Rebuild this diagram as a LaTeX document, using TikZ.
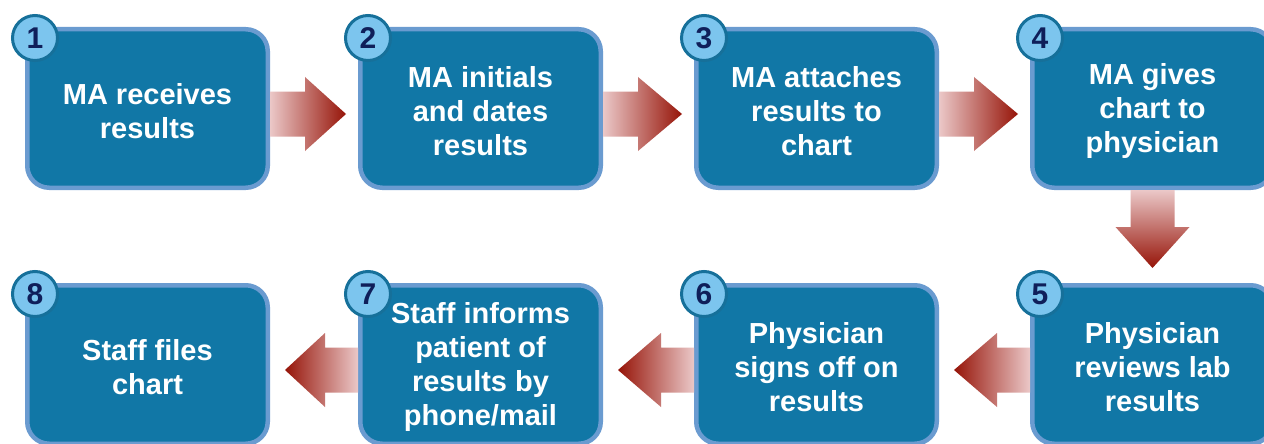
\documentclass[tikz,border=0pt]{standalone}
\usepackage{fontspec}
\setmainfont{Liberation Sans}
\usetikzlibrary{calc}
\definecolor{boxfill}{HTML}{1177A6}
\definecolor{boxline}{HTML}{6A9BD0}
\definecolor{circfill}{HTML}{7CC5EE}
\definecolor{circline}{HTML}{16709A}
\definecolor{numcol}{HTML}{0F1F5A}
\definecolor{ardark}{HTML}{961408}
\definecolor{arlight}{HTML}{EBC8C8}
\tikzset{
 stepbox/.style={draw=boxline, line width=4.5pt, fill=boxfill, rounded corners=22pt,
   minimum width=240.5pt, minimum height=158.5pt, inner sep=0pt},
 steptext/.style={align=center, inner sep=0pt,
   text=white, font=\fontsize{29}{34}\selectfont\bfseries},
 numcirc/.style={circle, draw=circline, line width=3pt, fill=circfill, minimum size=45pt,
   inner sep=0pt, text=numcol, font=\fontsize{30}{30}\selectfont\bfseries},
 rshade/.style={left color=arlight, right color=ardark},
 lshade/.style={left color=ardark, right color=arlight},
 dshade/.style={top color=arlight, bottom color=ardark},
}
\newcommand\rarr[2]{\shade[rshade] ($(#1.east)+(0,-17)$) -- ++(35,0) -- ++(0,-14.5)
  -- ($(#2.west)+(-12,5.5)$) -- ($(#1.east)+(35,42.5)$) -- ++(0,-14.5)
  -- ($(#1.east)+(0,28)$) -- cycle;}
\newcommand\larr[2]{\shade[lshade] ($(#1.west)+(0,-17)$) -- ++(-33,0) -- ++(0,-14.5)
  -- ($(#2.east)+(15,5.5)$) -- ($(#1.west)+(-33,42.5)$) -- ++(0,-14.5)
  -- ($(#1.west)+(0,28)$) -- cycle;}
\begin{document}
\begin{tikzpicture}[x=1pt,y=-1pt]
\clip (0,0) rectangle (1264,444);
\fill[white] (0,0) rectangle (1264,444);
% boxes
\node[stepbox] (b1) at (147.5,108.5) {};
\node[stepbox] (b2) at (480.5,108.5) {};
\node[stepbox] (b3) at (816.5,108.5) {};
\node[stepbox] (b4) at (1152.5,108.5) {};
\node[stepbox] (b5) at (1152.5,364.5) {};
\node[stepbox] (b6) at (816.5,364.5) {};
\node[stepbox] (b7) at (480.5,364.5) {};
\node[stepbox] (b8) at (147.5,364.5) {};
% texts
\node[steptext] (t1) at ($(b1)+(0,2.5)$) {MA receives\\results};
\node[steptext] (t2) at ($(b2)+(0,2.5)$) {MA initials\\and dates\\results};
\node[steptext] (t3) at ($(b3)+(0,2.5)$) {MA attaches\\results to\\chart};
\node[steptext] (t4) at ($(b4)+(0,2.5)$) {MA gives\\chart to\\physician};
\node[steptext] (t5) at ($(b5)+(0,2.5)$) {Physician\\reviews lab\\results};
\node[steptext] (t6) at ($(b6)+(0,2.5)$) {Physician\\signs off on\\results};
\node[steptext] (t7) at ($(b7)+(0,2.5)$) {Staff informs\\patient of\\results by\\phone/mail};
\node[steptext] (t8) at ($(b8)+(0,2.5)$) {Staff files\\chart};
% arrows
\rarr{b1}{b2}
\rarr{b2}{b3}
\rarr{b3}{b4}
\shade[dshade] ($(b4.south)+(-22,0)$) -- ++(0,37) -- ++(-15,0)
  -- ($(b5.north)+(0,-15)$) -- ($(b4.south)+(37,37)$) -- ++(-15,0)
  -- ($(b4.south)+(22,0)$) -- cycle;
\larr{b5}{b6}
\larr{b6}{b7}
\larr{b7}{b8}
% number circles
\foreach \i in {1,...,8}{
  \node[numcirc] (c\i) at ($(b\i.north west)+(10,11)$) {\i};
}
\end{tikzpicture}
\end{document}
